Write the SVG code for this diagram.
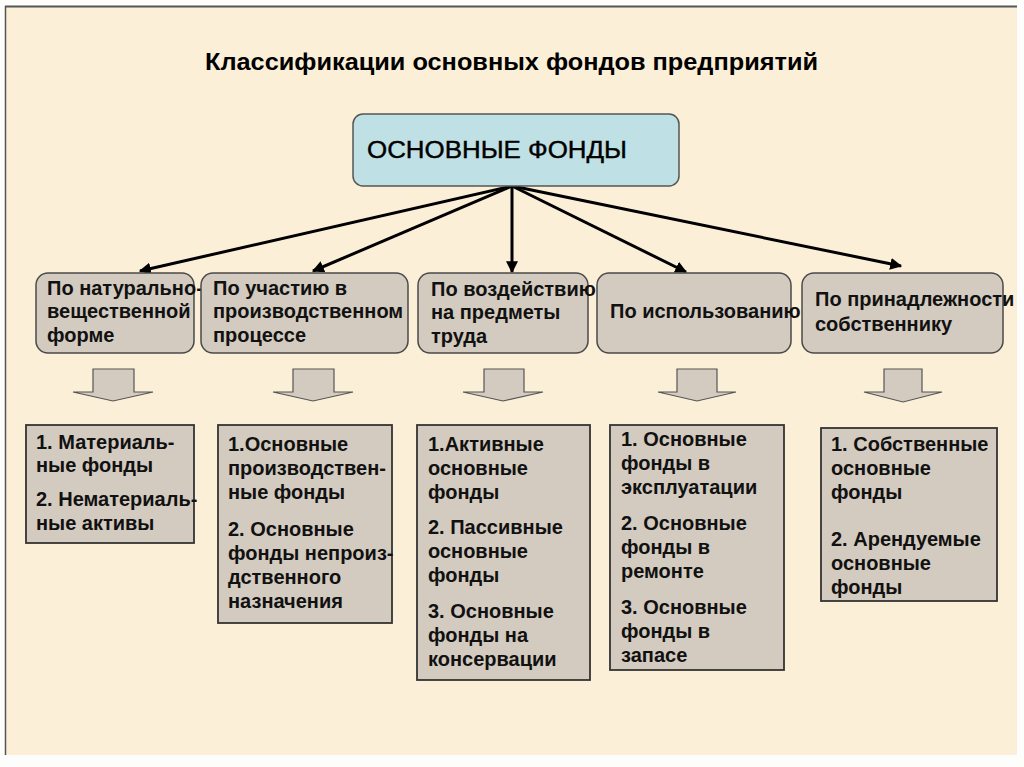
<svg xmlns="http://www.w3.org/2000/svg" width="1024" height="767" viewBox="0 0 1024 767">
<defs>
<marker id="ah" viewBox="0 0 10 10" refX="9" refY="5" markerWidth="4" markerHeight="4" orient="auto" markerUnits="strokeWidth">
<path d="M0,0 L10,5 L0,10 z" fill="#000"/>
</marker>
<style>
.t{font-family:"Liberation Sans",Arial,sans-serif;fill:#000;}
.cat{fill:#d4cbc0;stroke:#4a4a4a;stroke-width:1.5;}
.item{fill:#d4cbc0;stroke:#333;stroke-width:1.8;}
.ct{font-family:"Liberation Sans",Arial,sans-serif;font-size:20px;font-weight:bold;fill:#111;}
.bar{fill:#d4cbc0;stroke:#555;stroke-width:1.2;}
.conn{stroke:#000;stroke-width:3;fill:none;marker-end:url(#ah);}
</style>
</defs>
<rect x="0" y="0" width="1024" height="767" fill="#fdfdfb"/>
<rect x="5" y="6" width="1012" height="749" fill="#fcefd7"/>
<line x1="5" y1="6.5" x2="1017" y2="6.5" stroke="#555" stroke-width="2"/>
<line x1="5.5" y1="6" x2="5.5" y2="755" stroke="#555" stroke-width="1.5"/>
<text class="t" x="205" y="70" font-size="24" font-weight="bold" textLength="613" lengthAdjust="spacingAndGlyphs">Классификации основных фондов предприятий</text>

<g id="connectors">
<line class="conn" x1="512" y1="186" x2="140" y2="271"/>
<line class="conn" x1="512" y1="186" x2="313" y2="271"/>
<line class="conn" x1="512" y1="186" x2="512" y2="272"/>
<line class="conn" x1="512" y1="186" x2="686" y2="272"/>
<line class="conn" x1="512" y1="186" x2="901" y2="266"/>
</g>

<g id="root">
<rect x="353" y="114" width="326" height="72" rx="10" fill="#bfe1e6" stroke="#555" stroke-width="1.5"/>
<text class="t" x="367" y="158" font-size="23" stroke="#000" stroke-width="0.4" textLength="260" lengthAdjust="spacingAndGlyphs">ОСНОВНЫЕ ФОНДЫ</text>
</g>

<g id="cat1">
<rect class="cat" x="36" y="273" width="158" height="80" rx="12"/>
<text class="ct" x="47" y="295">По натурально-</text>
<text class="ct" x="47" y="318">вещественной</text>
<text class="ct" x="47" y="342">форме</text>
</g>
<g id="cat2">
<rect class="cat" x="201" y="273" width="207" height="80" rx="12"/>
<text class="ct" x="213" y="295">По участию в</text>
<text class="ct" x="213" y="318">производственном</text>
<text class="ct" x="213" y="342">процессе</text>
</g>
<g id="cat3">
<rect class="cat" x="418" y="273" width="170" height="80" rx="12"/>
<text class="ct" x="431" y="296">По воздействию</text>
<text class="ct" x="431" y="319">на предметы</text>
<text class="ct" x="431" y="343">труда</text>
</g>
<g id="cat4">
<rect class="cat" x="597" y="273" width="194" height="80" rx="12"/>
<text class="ct" x="610" y="318">По использованию</text>
</g>
<g id="cat5">
<rect class="cat" x="802" y="273" width="201" height="80" rx="12"/>
<text class="ct" x="815" y="306">По принадлежности</text>
<text class="ct" x="815" y="331">собственнику</text>
</g>

<g id="arrow1"><path class="bar" d="M93,369 H134 V392 H153 L113,401 L73,392 H93 Z"/></g>
<g id="arrow2"><path class="bar" d="M293,369 H334 V392 H353 L313,401 L273,392 H293 Z"/></g>
<g id="arrow3"><path class="bar" d="M484,369 H524 V392 H543 L503,401 L463,392 H484 Z"/></g>
<g id="arrow4"><path class="bar" d="M677,369 H717 V392 H736 L697,401 L658,392 H677 Z"/></g>
<g id="arrow5"><path class="bar" d="M884,369 H922 V392 H942 L903,402 L864,392 H884 Z"/></g>

<g id="item1">
<rect class="item" x="26" y="425" width="168" height="118"/>
<text class="ct" x="36" y="449">1. Материаль-</text>
<text class="ct" x="36" y="472">ные фонды</text>
<text class="ct" x="36" y="506">2. Нематериаль-</text>
<text class="ct" x="36" y="530">ные активы</text>
</g>
<g id="item2">
<rect class="item" x="218" y="425" width="174" height="198"/>
<text class="ct" x="228" y="451">1.Основные</text>
<text class="ct" x="228" y="475">производствен-</text>
<text class="ct" x="228" y="499">ные фонды</text>
<text class="ct" x="228" y="536">2. Основные</text>
<text class="ct" x="228" y="560">фонды непроиз-</text>
<text class="ct" x="228" y="584">дственного</text>
<text class="ct" x="228" y="608">назначения</text>
</g>
<g id="item3">
<rect class="item" x="417" y="425" width="173" height="255"/>
<text class="ct" x="428" y="451">1.Активные</text>
<text class="ct" x="428" y="475">основные</text>
<text class="ct" x="428" y="499">фонды</text>
<text class="ct" x="428" y="534">2. Пассивные</text>
<text class="ct" x="428" y="558">основные</text>
<text class="ct" x="428" y="582">фонды</text>
<text class="ct" x="428" y="618">3. Основные</text>
<text class="ct" x="428" y="642">фонды на</text>
<text class="ct" x="428" y="666">консервации</text>
</g>
<g id="item4">
<rect class="item" x="610" y="425" width="174" height="245"/>
<text class="ct" x="621" y="446">1. Основные</text>
<text class="ct" x="621" y="470">фонды в</text>
<text class="ct" x="621" y="494">эксплуатации</text>
<text class="ct" x="621" y="530">2. Основные</text>
<text class="ct" x="621" y="554">фонды в</text>
<text class="ct" x="621" y="578">ремонте</text>
<text class="ct" x="621" y="614">3. Основные</text>
<text class="ct" x="621" y="638">фонды в</text>
<text class="ct" x="621" y="662">запасе</text>
</g>
<g id="item5">
<rect class="item" x="821" y="428" width="176" height="173"/>
<text class="ct" x="831" y="451">1. Собственные</text>
<text class="ct" x="831" y="475">основные</text>
<text class="ct" x="831" y="499">фонды</text>
<text class="ct" x="831" y="546">2. Арендуемые</text>
<text class="ct" x="831" y="570">основные</text>
<text class="ct" x="831" y="594">фонды</text>
</g>
</svg>
